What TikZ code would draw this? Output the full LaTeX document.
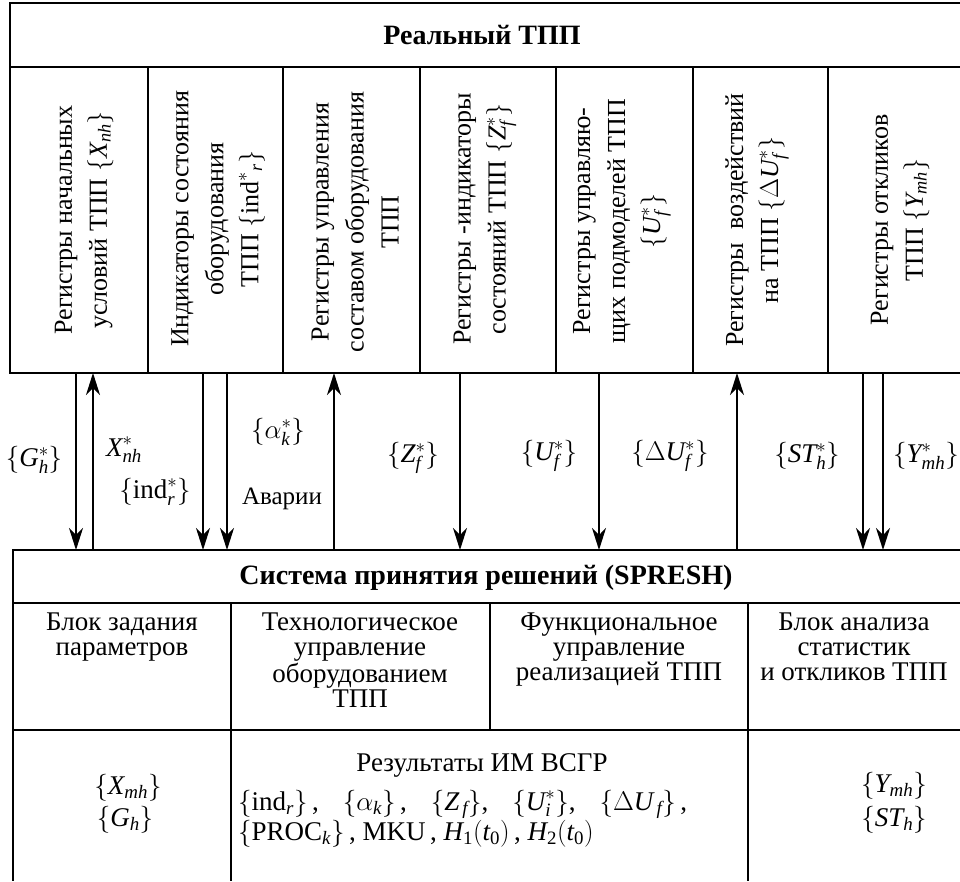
\RequirePackage{fix-cm}
\documentclass[tikz,border=0pt]{standalone}
\usepackage{amsmath}
\usepackage{fontspec}
\setmainfont{Liberation Serif}
\usetikzlibrary{arrows.meta}
\newcommand{\vi}[1]{\textit{#1}}
\begin{document}
\begin{tikzpicture}[x=1pt,y=-1pt,
  frame/.style={line width=2.3pt},
  sepline/.style={line width=1.9pt},
  flow/.style={line width=1.8pt,-{Stealth[length=22pt,width=14pt,inset=7pt]}},
  vtext/.style={rotate=90,align=center,font=\fontsize{26}{35}\selectfont,inner sep=0pt},
  lab/.style={font=\fontsize{27}{30}\selectfont,inner sep=0pt},
  ttl/.style={font=\bfseries\fontsize{28}{30}\selectfont,inner sep=0pt},
  cell/.style={font=\fontsize{27}{25}\selectfont,align=center,inner sep=0pt,anchor=north},
  rcell/.style={font=\fontsize{27}{33}\selectfont,inner sep=0pt}]
\useasboundingbox (0,0) rectangle (960,881);
% ---------- top block: Real TPP ----------
\draw[frame] (960,3) -- (10,3) -- (10,373) -- (960,373);
\draw[frame] (10,67) -- (960,67);
\foreach \x in {148,283,420,556,693,828} \draw[sepline] (\x,67) -- (\x,373);
\node[ttl] (real) at (482,35) {Реальный ТПП};
\node[vtext] (c1) at (84,220) {Регистры начальных\\условий ТПП $\{\vi{X}_{\vi{nh}}\}$};
\node[vtext] (c2) at (218,219) {Индикаторы состояния\\оборудования\\ТПП $\{\text{ind}^{*}{}_{\vi{r}}\}$};
\node[vtext] (c3) at (355,222) {Регистры управления\\составом оборудования\\ТПП};
\node[vtext] (c4) at (485,219) {Регистры -индикаторы\\состояний ТПП $\{\vi{Z}^{*}_{\vi{f}}\}$};
\node[vtext] (c5) at (622,221) {Регистры управляю-\\щих подмоделей ТПП\\$\{\vi{U}^{*}_{\vi{f}}\}$};
\node[vtext] (c6) at (757,220) {Регистры \ воздействий\\на ТПП $\{\Delta\vi{U}^{*}_{\vi{f}}\}$};
\node[vtext] (c7) at (900,220) {Регистры откликов\\ТПП $\{\vi{Y}_{\vi{mh}}\}$};
% ---------- bottom block: SPRESH ----------
\draw[frame] (960,550) -- (13,550) -- (13,881);
\draw[frame] (13,603) -- (960,603);
\draw[frame] (13,730) -- (960,730);
\draw[sepline] (231,603) -- (231,881);
\draw[sepline] (748,603) -- (748,881);
\draw[sepline] (490,603) -- (490,730);
\node[ttl] (spresh) at (486,578) {Система принятия решений (SPRESH)};
\node[cell] (b1) at (122,613) {Блок задания\\параметров};
\node[cell] (b2) at (360,613) {Технологическое\\управление\\оборудованием\\ТПП};
\node[cell] (b3) at (619,613) {Функциональное\\управление\\реализацией ТПП};
\node[cell] (b4) at (854,613) {Блок анализа\\статистик\\и откликов ТПП};
\node[rcell] (r1a) at (128,788) {$\{\vi{X}_{\vi{mh}}\}$};
\node[rcell] (r1b) at (125,820) {$\{\vi{G}_{\vi{h}}\}$};
\node[rcell] (r2a) at (482,765) {Результаты ИМ ВСГР};
\node[rcell,anchor=west] (r2b) at (238,804) {$\{\text{ind}_{\vi{r}}\}$\,,\hspace{24pt}$\{\alpha_{\vi{k}}\}$\,,\hspace{24pt}$\{\vi{Z}_{\,\vi{f}}\}$,\hspace{24pt}$\{\vi{U}^{*}_{\vi{i}}\}$,\hspace{24pt}$\{\Delta\vi{U}_{\,\vi{f}}\}$\,,};
\node[rcell,anchor=west] (r2c) at (238,834) {$\{\text{PROC}_{\vi{k}}\}$\,, MKU\,,\ $\vi{H}_{\text{1}}(\vi{t}_{\text{0}})$\,,\ $\vi{H}_{\text{2}}(\vi{t}_{\text{0}})$};
\node[rcell] (r3a) at (894,786) {$\{\vi{Y}_{\vi{mh}}\}$};
\node[rcell] (r3b) at (894,820) {$\{\vi{ST}_{\vi{h}}\}$};
% ---------- connector end points ----------
\foreach \x/\n in {76/g,93/x,203/i,227/j,334/a,460/z,599/u,737/d,863/s,883/y}{
  \coordinate (\n top) at (\x,373);
  \coordinate (\n bot) at (\x,550);
}
\draw[flow] (gtop) -- (gbot);
\draw[flow] (xbot) -- (xtop);
\draw[flow] (itop) -- (ibot);
\draw[flow] (jtop) -- (jbot);
\draw[flow] (abot) -- (atop);
\draw[flow] (ztop) -- (zbot);
\draw[flow] (utop) -- (ubot);
\draw[flow] (dbot) -- (dtop);
\draw[flow] (stop) -- (sbot);
\draw[flow] (ytop) -- (ybot);
% ---------- connector labels ----------
\node[lab] (lg) at (34,460) {$\{\vi{G}^{*}_{\vi{h}}\}$};
\node[lab] (lx) at (124,450) {$\vi{X}^{*}_{\vi{nh}}$};
\node[lab] (li) at (155,492) {$\{\text{ind}^{*}_{\vi{r}}\}$};
\node[lab] (la) at (278,432) {$\{\alpha^{*}_{\vi{k}}\}$};
\node[lab,font=\fontsize{25}{30}\selectfont] (lav) at (282,499) {Аварии};
\node[lab] (lz) at (413,458) {$\{\vi{Z}^{*}_{\vi{f}}\}$};
\node[lab] (lu) at (549,456) {$\{\vi{U}^{*}_{\vi{f}}\}$};
\node[lab] (ld) at (670,456) {$\{\Delta\vi{U}^{*}_{\vi{f}}\}$};
\node[lab] (ls) at (807,456) {$\{\vi{ST}^{*}_{\vi{h}}\}$};
\node[lab] (ly) at (926,456) {$\{\vi{Y}^{*}_{\vi{mh}}\}$};
\end{tikzpicture}
\end{document}
